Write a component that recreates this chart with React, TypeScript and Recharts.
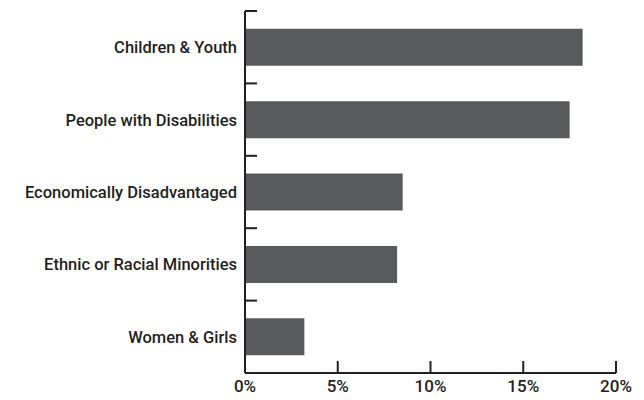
import { BarChart, Bar, XAxis, YAxis } from 'recharts';

const CATEGORIES = [
  'Children & Youth',
  'People with Disabilities',
  'Economically Disadvantaged',
  'Ethnic or Racial Minorities',
  'Women & Girls',
];
const SHARE = [18.2, 17.5, 8.5, 8.2, 3.2];
const X_TICKS = [0, 5, 10, 15, 20];

const data = CATEGORIES.map((name, i) => ({ name, share: SHARE[i] }));

const INK = '#231f20';
const FONT = 'Roboto, "Liberation Sans", sans-serif';
const TICK_LEN = 12;

// x tick: short mark pointing up into the plot, label below
function XTick(props: any) {
  const { x, y, payload } = props;
  return (
    <g>
      <line x1={x} x2={x} y1={y} y2={y - TICK_LEN} stroke={INK} strokeWidth={2} />
      <text
        x={x}
        y={y + 19}
        textAnchor="middle"
        fill={INK}
        fontSize={17}
        fontWeight={500}
        fontFamily={FONT}
      >
        {`${payload.value}%`}
      </text>
    </g>
  );
}

// y tick: label at band centre, short mark at the band's upper edge
function YTick(props: any) {
  const { x, y, payload } = props;
  const edge = y - (payload.offset || 0);
  return (
    <g>
      <line x1={x} x2={x + TICK_LEN} y1={edge} y2={edge} stroke={INK} strokeWidth={2} />
      <text
        x={x - 8}
        y={y + 6}
        textAnchor="end"
        fill={INK}
        fontSize={16.5}
        fontWeight={500}
        fontFamily={FONT}
      >
        {payload.value}
      </text>
    </g>
  );
}

export default function App() {
  return (
    <div style={{ margin: -8, width: 644, height: 400, background: '#fff' }}>
      <BarChart
        width={644}
        height={400}
        data={data}
        layout="vertical"
        margin={{ top: 11, right: 28, bottom: 0, left: 0 }}
        barCategoryGap="24.5%"
      >
        <XAxis
          type="number"
          domain={[0, 20]}
          ticks={X_TICKS}
          allowDataOverflow
          height={27}
          axisLine={{ stroke: INK, strokeWidth: 2 }}
          tickLine={false}
          tickSize={0}
          tickMargin={0}
          tick={<XTick />}
        />
        <YAxis
          type="category"
          dataKey="name"
          width={245}
          axisLine={{ stroke: INK, strokeWidth: 2 }}
          tickLine={false}
          tickSize={0}
          tickMargin={0}
          tick={<YTick />}
        />
        <Bar dataKey="share" fill="#58595b" isAnimationActive={false} />
      </BarChart>
    </div>
  );
}
